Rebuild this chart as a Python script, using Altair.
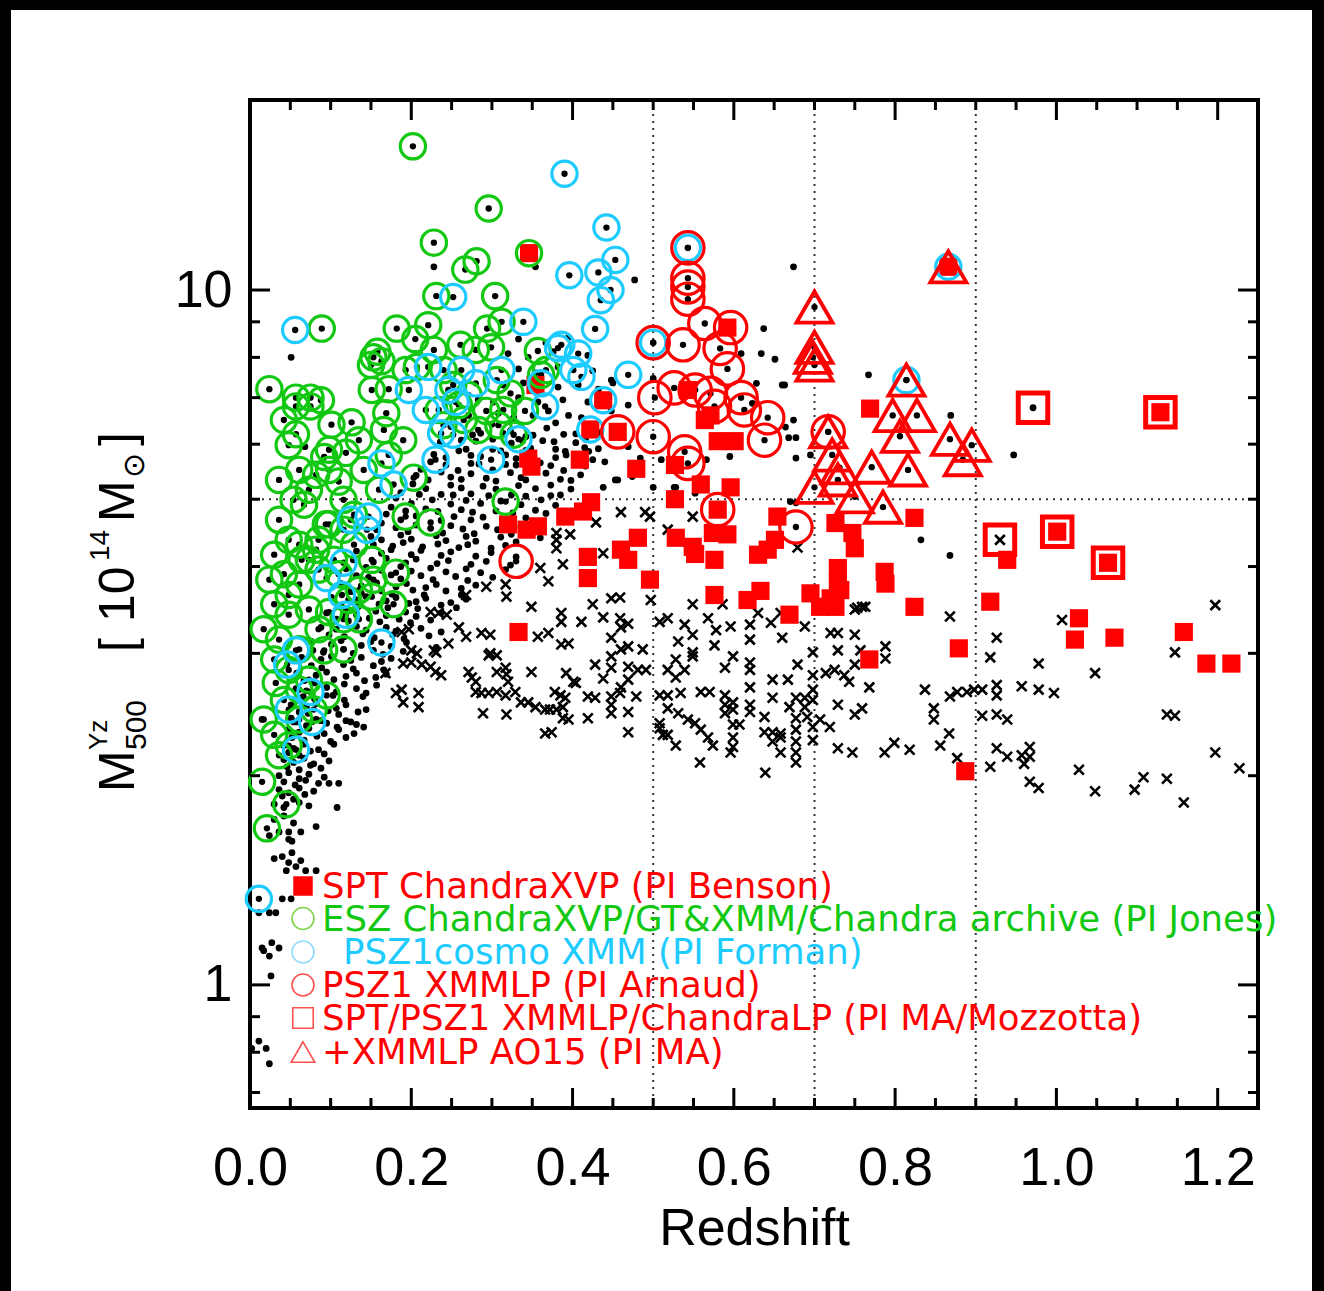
import altair as alt
import pandas as pd

# ---------------- data: (redshift z, M500 [1e14 Msun]) ----------------
esz_green = [
 (0.202,16.1),(0.296,13.1),(0.228,11.7),(0.281,11.0),(0.267,10.7),(0.231,9.8),(0.304,9.8),
 (0.089,8.8),(0.182,8.8),(0.221,8.9),(0.205,8.5),(0.294,8.8),(0.312,9.0),(0.153,8.0),
 (0.163,7.9),(0.150,7.8),(0.158,8.15),(0.228,8.2),(0.280,8.2),(0.024,7.2),(0.057,7.0),
 (0.075,7.0),(0.088,6.94),(0.057,6.8),(0.075,6.8),(0.057,6.2),(0.151,7.18),(0.172,7.2),
 (0.207,7.75),(0.193,7.67),(0.293,6.7),(0.314,6.72),(0.341,6.7),(0.361,7.55),(0.101,6.4),
 (0.126,6.45),(0.169,6.65),(0.252,7.3),(0.271,7.06),(0.306,7.42),(0.323,7.1),(0.240,7.67),
 (0.261,8.34),(0.299,8.27),(0.082,5.42),(0.110,5.3),(0.092,5.75),(0.098,5.89),(0.119,5.83),
 (0.172,5.79),(0.190,6.08),(0.203,5.37),(0.160,5.16),(0.036,4.67),(0.048,4.37),(0.061,4.30),
 (0.030,4.16),(0.073,4.09),(0.085,4.37),(0.098,4.6),(0.116,4.52),(0.129,4.75),(0.054,4.99),
 (0.067,4.91),(0.042,3.9),(0.061,3.77),(0.085,3.96),(0.110,3.9),(0.135,3.7),(0.153,3.83),
 (0.030,3.53),(0.048,3.41),(0.073,3.47),(0.098,3.44),(0.122,3.58),(0.017,3.25),(0.036,3.14),
 (0.061,3.04),(0.085,3.25),(0.030,2.94),(0.048,2.84),(0.073,2.75),(0.032,2.72),(0.042,2.57),
 (0.061,2.41),(0.079,2.49),(0.095,2.61),(0.092,3.03),(0.030,2.29),(0.036,2.14),(0.015,1.96),
 (0.045,1.82),(0.021,1.68),(0.151,4.09),(0.181,3.92),(0.151,3.62),(0.193,4.72),(0.224,4.63),
 (0.317,4.96),(0.094,4.6),(0.082,4.23),(0.064,4.09),(0.234,6.72),(0.135,6.08),(0.141,5.51),
 (0.166,6.29),(0.042,6.5),(0.048,5.98),(0.061,5.51),(0.036,5.33),(0.073,5.16),(0.098,5.51),
 (0.116,4.99),(0.129,4.3),(0.104,4.09),(0.048,3.64),(0.024,3.83),(0.116,3.36),(0.135,3.36),
 (0.178,3.53),(0.116,3.04),(0.061,2.66),(0.017,2.41),(0.048,2.21),(0.346,11.3),
 (0.265,6.5),(0.283,6.29),(0.308,6.39),(0.327,6.19),(0.259,6.83),(0.240,6.39),(0.357,8.17),
 (0.367,7.67),
]

psz1cosmo_cyan = [
 (0.390,14.7),(0.442,12.3),(0.396,10.5),(0.432,10.6),(0.453,11.05),(0.447,10.0),(0.435,9.67),
 (0.428,8.79),(0.252,9.77),(0.339,9.0),(0.056,8.76),(0.382,8.25),(0.407,8.1),(0.401,7.67),
 (0.411,7.5),(0.469,7.55),(0.438,6.94),(0.422,6.3),(0.221,7.75),(0.262,7.67),(0.280,7.34),
 (0.312,7.67),(0.197,7.18),(0.218,6.72),(0.246,7.18),(0.255,6.9),(0.237,6.22),(0.252,6.19),
 (0.230,5.7),(0.163,5.63),(0.178,5.25),(0.299,5.7),(0.333,6.1),(0.361,7.34),(0.366,6.8),
 (0.386,8.34),(0.125,4.67),(0.147,4.72),(0.145,4.52),(0.095,3.85),(0.116,4.05),(0.114,3.64),
 (0.119,3.41),(0.163,3.11),(0.057,3.03),(0.046,2.89),(0.075,2.64),(0.048,2.49),(0.077,2.39),
 (0.057,2.18),(0.011,1.33),(0.500,8.4),(0.543,11.5),(0.866,10.8),(0.814,7.42),
]

psz1_xmmlp_red = [
 (0.543,11.5),(0.543,10.4),(0.543,10.1),(0.543,9.7),(0.500,8.4),(0.537,8.34),(0.564,8.95),
 (0.596,8.83),(0.583,8.24),(0.592,7.7),(0.502,7.0),(0.526,7.23),(0.552,7.18),(0.571,7.1),
 (0.576,6.8),(0.609,7.0),(0.613,6.72),(0.642,6.55),(0.638,6.08),(0.456,6.25),(0.500,6.15),
 (0.539,5.85),(0.543,5.63),(0.580,4.83),(0.677,4.56),(0.330,4.07),(0.717,6.25),
]

ao15_triangles = [
 (0.700,9.45),(0.700,8.27),(0.698,8.0),(0.700,7.8),(0.866,10.8),(0.814,7.42),(0.797,6.6),
 (0.827,6.6),(0.806,6.16),(0.868,6.1),(0.895,5.98),(0.884,5.7),(0.816,5.51),(0.771,5.56),
 (0.717,6.25),(0.722,5.79),(0.731,5.55),(0.700,5.2),(0.729,5.33),(0.750,5.04),(0.785,4.87),
]

chandralp_squares = [(0.971,6.77),(1.129,6.67),(0.930,4.37),(1.001,4.49),(1.064,4.05)]

spt_filled = [
 (0.592,8.83),(0.438,6.94),(0.422,6.3),(0.456,6.25),(0.409,5.7),(0.479,5.53),(0.543,7.18),
 (0.571,6.6),(0.564,6.5),(0.580,6.06),(0.601,6.06),(0.527,5.6),(0.559,5.25),(0.596,5.2),
 (0.527,5.0),(0.580,4.83),(0.423,4.95),(0.413,4.8),(0.481,4.4),(0.528,4.4),(0.549,4.27),
 (0.552,4.17),(0.574,4.47),(0.592,4.45),(0.419,4.13),(0.460,4.23),(0.469,4.09),(0.419,3.85),
 (0.576,4.09),(0.496,3.83),(0.630,4.16),(0.642,4.23),(0.651,4.37),(0.654,4.72),(0.576,3.64),
 (0.617,3.58),(0.633,3.69),(0.669,3.41),(0.726,4.62),(0.747,4.47),(0.750,4.25),(0.769,6.75),
 (0.824,4.7),(0.787,3.93),(0.788,3.78),(0.729,3.98),(0.729,3.78),(0.695,3.66),(0.707,3.5),
 (0.720,3.6),(0.732,3.7),(0.726,3.5),(0.824,3.5),(0.768,2.94),(0.939,4.09),(0.918,3.56),
 (1.028,3.37),(1.023,3.14),(1.072,3.16),(1.158,3.22),(0.879,3.05),(1.186,2.9),(1.217,2.9),
 (0.887,2.03),(0.346,11.3),(0.345,5.72),(0.349,5.57),(0.354,7.3),(0.391,4.72),
 (0.320,4.6),(0.343,4.52),(0.357,4.57),(0.333,3.22),
 (1.001,4.49),(1.064,4.05),(1.129,6.67),(0.866,10.8),
]

black_dots = [
 (0.333,8.5),(0.367,8.4),(0.395,8.55),
 (0.320,8.1),(0.345,8.0),(0.376,8.15),(0.419,8.05),
 (0.333,7.7),(0.354,7.6),(0.382,7.75),(0.425,7.65),
 (0.314,7.3),(0.339,7.35),(0.382,7.25),(0.407,7.3),(0.432,7.2),(0.450,7.35),
 (0.283,6.95),(0.302,6.9),(0.333,7.0),(0.357,6.9),(0.388,6.95),(0.419,6.9),
 (0.271,6.6),(0.308,6.65),(0.327,6.55),(0.351,6.6),(0.370,6.7),(0.395,6.6),(0.411,6.55),
 (0.249,6.36),(0.286,6.22),(0.300,6.41),(0.323,6.27),(0.342,6.15),(0.368,6.33),(0.379,6.44),(0.404,6.21),
 (0.262,6.08),(0.276,6.19),(0.301,6.1),(0.314,6.22),(0.338,6.07),(0.351,6.18),(0.377,6.05),(0.389,6.2),(0.416,6.1),
 (0.236,6.04),(0.268,5.9),(0.280,6.06),(0.311,5.87),(0.324,6.02),(0.348,5.92),(0.363,6.07),(0.391,5.86),(0.404,6.03),(0.432,5.91),
 (0.228,5.8),(0.259,5.87),(0.274,5.78),(0.301,5.9),(0.317,5.79),(0.342,5.88),(0.352,5.77),(0.379,5.9),(0.392,5.79),(0.420,5.86),
 (0.224,5.66),(0.243,5.74),(0.274,5.63),(0.286,5.76),(0.317,5.61),(0.330,5.72),(0.360,5.64),(0.379,5.74),(0.404,5.62),(0.416,5.7),
 (0.212,5.52),(0.243,5.6),(0.258,5.5),(0.284,5.62),(0.301,5.51),(0.330,5.6),(0.345,5.49),(0.373,5.59),(0.389,5.5),(0.416,5.58),
 (0.206,5.41),(0.237,5.47),(0.249,5.38),(0.274,5.44),(0.293,5.36),(0.323,5.46),(0.336,5.37),(0.367,5.45),(0.385,5.34),(0.410,5.42),
 (0.202,5.26),(0.221,5.33),(0.249,5.24),(0.262,5.34),(0.289,5.22),(0.305,5.31),(0.333,5.23),(0.342,5.33),(0.373,5.24),(0.398,5.32),
 (0.187,5.11),(0.218,5.18),(0.237,5.08),(0.262,5.19),(0.274,5.09),(0.305,5.17),(0.324,5.07),(0.354,5.18),(0.373,5.06),(0.398,5.17),
 (0.181,5.02),(0.210,5.08),(0.226,4.99),(0.252,5.07),(0.268,4.98),(0.296,5.06),(0.311,4.97),(0.342,5.05),(0.361,4.99),(0.385,5.07),
 (0.175,4.87),(0.200,4.93),(0.218,4.84),(0.249,4.92),(0.262,4.83),(0.286,4.93),(0.305,4.81),(0.336,4.91),(0.354,4.82),(0.379,4.9),
 (0.169,4.76),(0.193,4.81),(0.206,4.73),(0.233,4.8),(0.253,4.72),(0.276,4.79),(0.289,4.71),(0.326,4.78),(0.342,4.7),(0.367,4.77),
 (0.163,4.62),(0.187,4.67),(0.206,4.59),(0.237,4.66),(0.249,4.58),(0.274,4.67),(0.293,4.57),(0.317,4.64),(0.336,4.56),(0.361,4.63),
 (0.157,4.52),(0.181,4.55),(0.196,4.49),(0.224,4.54),(0.239,4.47),(0.264,4.53),(0.278,4.46),(0.307,4.52),(0.324,4.45),(0.354,4.51),
 (0.150,4.42),(0.163,4.37),(0.187,4.44),(0.200,4.38),(0.231,4.43),(0.243,4.36),(0.268,4.42),(0.280,4.35),(0.311,4.41),(0.330,4.34),(0.360,4.4),
 (0.153,4.3),(0.177,4.28),(0.190,4.33),(0.214,4.27),(0.233,4.31),(0.259,4.26),(0.270,4.3),(0.299,4.25),(0.317,4.29),
 (0.132,4.21),(0.163,4.18),(0.175,4.23),(0.200,4.16),(0.212,4.22),(0.237,4.15),(0.249,4.2),(0.280,4.14),(0.299,4.19),(0.330,4.13),
 (0.128,4.09),(0.153,4.06),(0.169,4.11),(0.193,4.05),(0.206,4.1),(0.232,4.04),(0.246,4.08),(0.274,4.03),(0.293,4.07),(0.323,4.02),
 (0.119,3.97),(0.144,3.99),(0.163,3.95),(0.187,4.0),(0.200,3.94),(0.224,3.98),(0.243,3.93),(0.268,3.97),(0.286,3.92),(0.317,3.96),
 (0.132,3.88),(0.147,3.86),(0.175,3.89),(0.187,3.84),(0.212,3.88),(0.227,3.83),(0.255,3.87),(0.270,3.82),(0.301,3.86),
 (0.113,3.78),(0.138,3.75),(0.157,3.79),(0.181,3.74),(0.194,3.78),(0.218,3.73),(0.231,3.77),(0.262,3.72),(0.280,3.76),
 (0.125,3.68),(0.138,3.66),(0.163,3.69),(0.176,3.65),(0.202,3.7),(0.216,3.64),(0.243,3.69),(0.262,3.64),
 (0.101,3.61),(0.132,3.58),(0.144,3.62),(0.169,3.57),(0.181,3.61),(0.206,3.56),(0.218,3.6),(0.249,3.55),(0.268,3.59),
 (0.113,3.52),(0.134,3.5),(0.160,3.53),(0.171,3.49),(0.197,3.54),(0.208,3.48),(0.237,3.52),(0.256,3.49),
 (0.095,3.43),(0.119,3.46),(0.132,3.41),(0.156,3.45),(0.169,3.4),(0.193,3.44),(0.206,3.39),(0.237,3.43),
 (0.107,3.36),(0.122,3.34),(0.148,3.37),(0.161,3.33),(0.185,3.36),(0.199,3.32),(0.224,3.35),
 (0.088,3.27),(0.107,3.25),(0.132,3.28),(0.144,3.24),(0.169,3.27),(0.181,3.23),(0.212,3.26),(0.237,3.22),
 (0.098,3.19),(0.117,3.17),(0.140,3.2),(0.154,3.16),(0.177,3.19),(0.191,3.15),(0.222,3.18),
 (0.076,3.12),(0.101,3.09),(0.113,3.13),(0.138,3.08),(0.150,3.12),(0.175,3.07),(0.194,3.11),(0.231,3.06),
 (0.078,3.03),(0.091,3.01),(0.116,3.04),(0.128,3.0),(0.153,3.03),(0.165,2.99),(0.190,3.02),
 (0.064,2.96),(0.088,2.94),(0.101,2.97),(0.125,2.93),(0.138,2.96),(0.163,2.92),(0.175,2.95),
 (0.076,2.88),(0.089,2.86),(0.116,2.89),(0.128,2.85),(0.153,2.88),(0.166,2.84),
 (0.058,2.81),(0.082,2.79),(0.095,2.82),(0.119,2.78),(0.132,2.81),(0.156,2.77),(0.169,2.8),
 (0.067,2.74),(0.080,2.72),(0.104,2.75),(0.117,2.71),(0.142,2.74),(0.157,2.7),
 (0.057,2.67),(0.070,2.65),(0.095,2.68),(0.107,2.64),(0.132,2.67),(0.144,2.63),
 (0.066,2.6),(0.080,2.58),(0.103,2.61),(0.117,2.57),(0.140,2.6),
 (0.051,2.53),(0.070,2.51),(0.082,2.54),(0.107,2.5),(0.119,2.53),(0.144,2.49),
 (0.061,2.47),(0.072,2.46),(0.097,2.48),(0.110,2.45),(0.134,2.47),
 (0.051,2.42),(0.058,2.39),(0.082,2.41),(0.095,2.38),(0.119,2.4),(0.132,2.37),
 (0.054,2.39),(0.070,2.36),(0.088,2.4),(0.108,2.35),(0.125,2.39),
 (0.048,2.33),(0.061,2.31),(0.073,2.34),(0.092,2.3),(0.110,2.33),(0.129,2.3),
 (0.052,2.27),(0.067,2.25),(0.083,2.28),(0.100,2.24),(0.119,2.27),
 (0.042,2.21),(0.054,2.19),(0.067,2.22),(0.085,2.18),(0.104,2.22),
 (0.048,2.16),(0.061,2.14),(0.075,2.17),(0.092,2.15),
 (0.042,2.11),(0.054,2.09),(0.067,2.12),(0.079,2.08),(0.098,2.1),
 (0.046,2.06),(0.061,2.04),(0.075,2.07),(0.088,2.05),
 (0.036,2.0),(0.048,2.02),(0.061,1.98),(0.073,2.01),(0.092,1.99),
 (0.042,1.96),(0.056,1.94),(0.069,1.97),(0.085,1.95),
 (0.036,1.91),(0.048,1.89),(0.061,1.92),(0.079,1.9),
 (0.040,1.87),(0.054,1.85),(0.068,1.88),
 (0.030,1.82),(0.042,1.8),(0.061,1.83),(0.073,1.81),
 (0.030,1.73),(0.042,1.75),(0.054,1.71),
 (0.024,1.64),(0.036,1.66),(0.048,1.62),
 # scattered
 (0.228,10.8),(0.354,10.8),(0.477,10.34),(0.051,8.0),(0.068,5.95),(0.674,10.8),(0.637,8.8),
 (0.634,8.1),(0.651,7.95),(0.609,8.1),(0.660,7.3),(0.628,7.34),(0.767,7.55),(0.674,6.5),
 (0.677,6.13),(0.668,6.13),(0.677,5.73),(0.695,5.79),(0.869,6.6),(0.947,5.79),(0.832,4.37),
 (0.868,4.15),(0.500,7.46),(0.448,6.7),(0.469,6.83),(0.434,6.23),(0.469,5.95),(0.484,5.73),
 (0.510,5.7),(0.453,5.33),(0.474,5.39),(0.526,5.2),(0.566,5.7),(0.500,5.2),(0.677,4.94),
 (0.415,5.93),(0.425,5.7),(0.440,5.66),(0.456,5.33),(0.438,5.2),(0.448,7.42),(0.528,5.2),
 (0.552,5.1),(0.670,4.96),(0.623,6.87),(0.595,5.76),(0.663,7.3),(0.664,6.35),(0.971,6.77),
 (0.015,2.41),(0.141,2.35),(0.098,1.95),(0.110,1.95),(0.108,1.80),(0.082,1.69),(0.052,1.61),
 (0.030,1.52),(0.040,1.53),(0.048,1.50),(0.057,1.48),(0.063,1.51),(0.052,1.55),(0.045,1.46),
 (0.082,1.46),(0.063,1.66),(0.048,1.66),(0.051,1.33),(0.011,1.27),(0.032,1.27),(0.024,1.27),
 (0.040,1.33),(0.015,1.13),(0.027,1.15),(0.024,1.10),(0.036,1.13),(0.017,1.12),(0.026,1.03),
 (0.011,0.83),(0.020,0.81),(0.024,0.77),(0.002,0.81),(0.069,1.46),
]

black_crosses = [
 (0.380,4.47),(0.380,4.37),(0.380,4.25),(0.397,4.45),(0.388,4.03),(0.360,3.98),(0.370,3.81),
 (0.317,3.77),(0.318,3.62),(0.349,3.5),(0.268,3.64),(0.293,3.74),(0.224,3.44),(0.234,3.43),
 (0.244,3.41),(0.259,3.27),(0.268,3.17),(0.287,3.21),(0.298,3.19),(0.357,3.17),(0.370,3.21),
 (0.386,3.43),(0.386,3.33),(0.197,3.25),(0.188,3.22),(0.200,3.03),(0.207,3.0),(0.298,3.0),
 (0.190,2.9),(0.200,2.91),(0.213,2.89),(0.224,2.87),(0.230,2.82),(0.237,2.79),(0.168,2.81),
 (0.181,2.63),(0.188,2.66),(0.190,2.55),(0.209,2.63),(0.209,2.51),(0.228,3.03),(0.231,3.01),
 (0.246,3.10),(0.271,2.82),(0.275,2.77),(0.280,2.73),(0.296,2.98),(0.306,2.98),(0.306,2.82),
 (0.317,2.86),(0.318,2.80),(0.320,2.73),(0.349,2.82),(0.280,2.64),(0.287,2.63),(0.296,2.63),
 (0.306,2.64),(0.317,2.61),(0.329,2.64),(0.289,2.46),(0.318,2.45),(0.336,2.55),(0.345,2.55),
 (0.354,2.51),(0.366,2.49),(0.372,2.49),(0.380,2.49),(0.388,2.51),(0.388,2.42),(0.395,2.41),
 (0.366,2.30),(0.374,2.31),(0.378,2.64),(0.385,2.61),(0.391,2.59),(0.392,2.81),(0.401,2.73),
 (0.404,2.72),(0.386,3.09),(0.395,3.10),
 (0.490,4.79),(0.496,4.72),(0.549,4.72),(0.518,4.52),(0.429,4.63),(0.460,4.79),(0.438,4.18),
 (0.679,4.26),(0.753,3.49),(0.763,3.5),(0.425,3.53),(0.448,3.6),(0.459,3.61),(0.411,3.33),
 (0.438,3.38),(0.459,3.37),(0.469,3.31),(0.460,3.27),(0.448,3.16),(0.469,3.07),(0.460,3.04),
 (0.487,3.04),(0.448,2.97),(0.428,2.89),(0.448,2.86),(0.469,2.87),(0.481,2.84),(0.491,2.84),
 (0.438,2.76),(0.460,2.68),(0.469,2.75),(0.419,2.60),(0.428,2.59),(0.448,2.60),(0.459,2.63),
 (0.448,2.53),(0.448,2.46),(0.419,2.42),(0.469,2.47),(0.479,2.60),(0.469,2.31),(0.497,3.58),
 (0.508,3.33),(0.518,3.37),(0.549,3.53),(0.539,3.30),(0.549,3.19),(0.531,3.12),(0.549,3.01),
 (0.549,2.97),(0.528,2.94),(0.518,2.84),(0.539,2.84),(0.528,2.77),(0.508,2.61),(0.518,2.61),
 (0.534,2.63),(0.559,2.64),(0.570,2.64),(0.508,2.38),(0.508,2.34),(0.512,2.29),(0.518,2.29),
 (0.528,2.21),(0.518,2.50),(0.531,2.46),(0.543,2.41),(0.552,2.38),(0.559,2.33),(0.568,2.27),
 (0.574,2.21),(0.558,2.09),(0.568,3.37),(0.578,3.24),(0.576,3.08),(0.596,3.28),(0.589,2.86),
 (0.599,2.97),(0.589,2.61),(0.589,2.53),(0.599,2.55),(0.599,2.49),(0.589,2.46),(0.607,2.37),
 (0.599,2.37),(0.599,2.27),(0.599,2.20),(0.596,2.16),(0.586,3.53),(0.620,3.30),(0.630,3.43),
 (0.620,3.14),(0.620,2.91),(0.620,2.84),(0.620,2.68),(0.620,2.53),(0.620,2.47),(0.638,2.43),
 (0.638,2.31),(0.648,2.31),(0.658,2.30),(0.648,2.24),(0.658,2.16),(0.639,2.02),(0.646,3.32),
 (0.658,3.43),(0.660,3.16),(0.648,2.75),(0.667,2.75),(0.679,2.89),(0.648,2.59),(0.669,2.51),
 (0.677,2.59),(0.688,2.59),(0.677,2.42),(0.677,2.33),(0.677,2.24),(0.677,2.16),(0.677,2.09),
 (0.688,2.51),(0.691,2.43),(0.658,2.27),(0.688,3.28),(0.698,3.01),(0.698,2.79),(0.698,2.66),
 (0.698,2.57),(0.698,2.35),(0.698,2.25),(0.707,2.41),(0.719,2.35),(0.714,2.81),(0.725,2.84),
 (0.720,3.21),(0.729,3.21),(0.729,3.03),(0.737,2.79),(0.743,2.73),(0.750,2.89),(0.750,3.19),
 (0.750,3.47),(0.759,3.50),(0.757,3.03),(0.788,3.07),(0.788,2.95),(0.768,2.68),(0.729,2.53),
 (0.750,2.45),(0.759,2.50),(0.729,2.19),(0.747,2.16),(0.787,2.16),(0.799,2.23),(0.818,2.18),
 (0.868,3.39),(1.007,3.35),(0.926,3.16),(0.918,2.96),(0.978,2.90),(1.048,2.81),(1.147,3.01),
 (1.197,3.52),(0.837,2.66),(0.868,2.60),(0.877,2.64),(0.889,2.64),(0.898,2.66),(0.908,2.66),
 (0.926,2.70),(0.926,2.61),(0.957,2.69),(0.978,2.66),(0.997,2.63),(0.848,2.50),(0.848,2.41),
 (0.908,2.44),(0.926,2.45),(0.939,2.41),(1.137,2.45),(1.147,2.44),(0.867,2.30),(0.856,2.21),
 (0.877,2.12),(0.926,2.19),(0.939,2.13),(0.957,2.14),(0.967,2.20),(0.967,2.13),(0.960,2.08),
 (0.918,2.06),(1.028,2.04),(0.967,1.96),(0.978,1.92),(1.048,1.90),(1.097,1.91),(1.108,1.99),
 (1.137,1.98),(1.158,1.83),(1.197,2.16),(1.227,2.05),(0.930,4.37),
]

x_major = [0.0, 0.2, 0.4, 0.6, 0.8, 1.0, 1.2]
x_minor = [0.05, 0.1, 0.15, 0.25, 0.3, 0.35, 0.45, 0.5, 0.55, 0.65, 0.7, 0.75, 0.85, 0.9,
           0.95, 1.05, 1.1, 1.15]
y_major = [1, 10]
y_minor = [0.7, 0.8, 0.9, 2, 3, 4, 5, 6, 7, 8, 9]
z_dotted = [0.5, 0.7, 0.9]
m_dotted = [5]

legend_labels = [
    "SPT ChandraXVP (PI Benson)",
    "ESZ ChandraXVP/GT&XMM/Chandra archive (PI Jones)",
    "PSZ1cosmo XMM (PI Forman)",
    "PSZ1 XMMLP (PI Arnaud)",
    "SPT/PSZ1 XMMLP/ChandraLP (PI MA/Mozzotta)",
    "+XMMLP AO15 (PI MA)",
]

RED = "#ff0000"
GREEN = "#12c812"
CYAN = "#1ecbff"

W, H = 1008, 1008


def df(pairs):
    return pd.DataFrame(pairs, columns=["z", "M"])


xscale = alt.Scale(domain=[0, 1.25], nice=False, zero=False)
yscale = alt.Scale(type="log", domain=[0.665, 18.77], nice=False)
xaxis = alt.Axis(values=x_major, format=".1f", labelFont="Liberation Sans", labelFontSize=54,
                 labelColor="black", ticks=False, tickSize=0, domain=False, grid=False,
                 labelPadding=33, title="Redshift", titleFont="Liberation Sans",
                 titleFontSize=52, titleFontWeight="normal", titleColor="black",
                 titlePadding=8, labelFlush=False)
yaxis = alt.Axis(values=y_major, format="d", labelFont="Liberation Sans", labelFontSize=52,
                 labelColor="black", ticks=False, tickSize=0, domain=False, grid=False,
                 labelPadding=18, title=None, labelFlush=False)
X = alt.X("z:Q", scale=xscale, axis=xaxis)
Y = alt.Y("M:Q", scale=yscale, axis=yaxis)

layers = []

# dotted reference lines
layers.append(alt.Chart(pd.DataFrame({"z": z_dotted})).mark_rule(
    color="#333333", strokeWidth=2, strokeDash=[2, 5]).encode(x=X))
layers.append(alt.Chart(pd.DataFrame({"M": m_dotted})).mark_rule(
    color="#333333", strokeWidth=2, strokeDash=[2, 5]).encode(y=Y))

# sample points
layers.append(alt.Chart(df(black_dots)).mark_circle(size=46, color="black", opacity=1).encode(x=X, y=Y))
layers.append(alt.Chart(df(black_crosses)).mark_point(
    shape="M-1,-1L1,1M-1,1L1,-1", size=95, filled=False, strokeWidth=2.6, color="black",
    opacity=1).encode(x=X, y=Y))
centers = esz_green + psz1cosmo_cyan + psz1_xmmlp_red + ao15_triangles
layers.append(alt.Chart(df(centers)).mark_circle(size=40, color="black", opacity=1).encode(x=X, y=Y))
layers.append(alt.Chart(df(spt_filled)).mark_point(
    shape="square", size=330, filled=True, color=RED, opacity=1).encode(x=X, y=Y))
layers.append(alt.Chart(df(esz_green)).mark_point(
    shape="circle", size=640, filled=False, strokeWidth=3.2, color=GREEN, opacity=1).encode(x=X, y=Y))
layers.append(alt.Chart(df(psz1cosmo_cyan)).mark_point(
    shape="circle", size=640, filled=False, strokeWidth=3.2, color=CYAN, opacity=1).encode(x=X, y=Y))
layers.append(alt.Chart(df(psz1_xmmlp_red)).mark_point(
    shape="circle", size=1050, filled=False, strokeWidth=3.2, color=RED, opacity=1).encode(x=X, y=Y))
layers.append(alt.Chart(df(ao15_triangles)).mark_point(
    shape="triangle-up", size=1300, filled=False, strokeWidth=3.8, color=RED, opacity=1).encode(x=X, y=Y))
layers.append(alt.Chart(df(chandralp_squares)).mark_point(
    shape="square", size=870, filled=False, strokeWidth=5, color=RED, opacity=1).encode(x=X, y=Y))

# inward ticks
for vals, ln in ((x_major, 20), (x_minor, 10)):
    d = pd.DataFrame({"z": vals})
    layers.append(alt.Chart(d).mark_rule(color="black", strokeWidth=3).encode(
        x=X, y=alt.value(H), y2=alt.value(H - ln)))
    layers.append(alt.Chart(d).mark_rule(color="black", strokeWidth=3).encode(
        x=X, y=alt.value(0), y2=alt.value(ln)))
for vals, ln in ((y_major, 20), (y_minor, 10)):
    d = pd.DataFrame({"M": vals})
    layers.append(alt.Chart(d).mark_rule(color="black", strokeWidth=3).encode(
        y=Y, x=alt.value(0), x2=alt.value(ln)))
    layers.append(alt.Chart(d).mark_rule(color="black", strokeWidth=3).encode(
        y=Y, x=alt.value(W), x2=alt.value(W - ln)))

one = pd.DataFrame({"k": [0]})


def txt(s, x, y, size, color="black", font="Liberation Sans", angle=0, align="left",
        baseline="alphabetic"):
    return alt.Chart(pd.DataFrame({"t": [s]})).mark_text(
        font=font, fontSize=size, color=color, angle=angle, align=align,
        baseline=baseline).encode(x=alt.value(x), y=alt.value(y), text="t:N")


# y-axis title  M^Yz_500 [10^14 M_sun]
ox, oy = 250, 100
bx = 134 - ox
layers.append(txt("M", bx, 792 - oy, 50, angle=270))
layers.append(txt("500", bx + 12, 750 - oy, 30, angle=270))
layers.append(txt("Yz", bx - 27, 750 - oy, 26, angle=270))
layers.append(txt("[", bx, 652 - oy, 50, angle=270))
layers.append(txt("10", bx, 622 - oy, 50, angle=270))
layers.append(txt("14", bx - 25, 561 - oy, 28, angle=270))
layers.append(txt("M", bx, 522 - oy, 50, angle=270))
layers.append(txt("\u2299", bx + 10, 478 - oy, 30, font="DejaVu Sans", angle=270))
layers.append(txt("]", bx, 446 - oy, 50, angle=270))

# legend
leg_colors = [RED, GREEN, CYAN, RED, RED, RED]
leg_y = [886, 918.5, 952, 985, 1018, 1052]
leg_tx = [322, 322, 343, 322, 322, 322]
for i, lab in enumerate(legend_labels):
    layers.append(txt(lab, leg_tx[i] - ox, leg_y[i] - oy + 12, 35.5, color=leg_colors[i],
                      font="DejaVu Sans"))
sym = [("square", True, RED, 380, 0), ("circle", False, "#7fd44a", 480, 1.6),
       ("circle", False, "#8fdcff", 480, 1.6), ("circle", False, "#ff5050", 480, 1.6),
       ("square", False, "#ff5050", 420, 1.6), ("triangle-up", False, "#ff5050", 560, 1.6)]
for i, (shp, fill, col, sz, sw) in enumerate(sym):
    kw = dict(shape=shp, filled=fill, size=sz, color=col, opacity=1)
    if sw:
        kw["strokeWidth"] = sw
    layers.append(alt.Chart(one).mark_point(**kw).encode(
        x=alt.value(303 - ox), y=alt.value(leg_y[i] - oy)))

# black frame of the picture
layers.append(alt.Chart(one).mark_rule(color="black", strokeWidth=10).encode(
    x=alt.value(-ox), x2=alt.value(1324 - ox), y=alt.value(5 - oy)))
layers.append(alt.Chart(one).mark_rule(color="black", strokeWidth=11).encode(
    x=alt.value(5.5 - ox), y=alt.value(-oy), y2=alt.value(1291 - oy)))
layers.append(alt.Chart(one).mark_rule(color="black", strokeWidth=12).encode(
    x=alt.value(1318 - ox), y=alt.value(-oy), y2=alt.value(1291 - oy)))

chart = alt.layer(*layers).properties(
    width=W, height=H,
    autosize=alt.AutoSizeParams(type="none"),
    padding={"left": 250, "top": 100, "right": 66, "bottom": 183},
    background="white",
).configure_view(stroke="black", strokeWidth=4)

chart.save("out.html", embed_options={"renderer": "svg", "actions": False})
